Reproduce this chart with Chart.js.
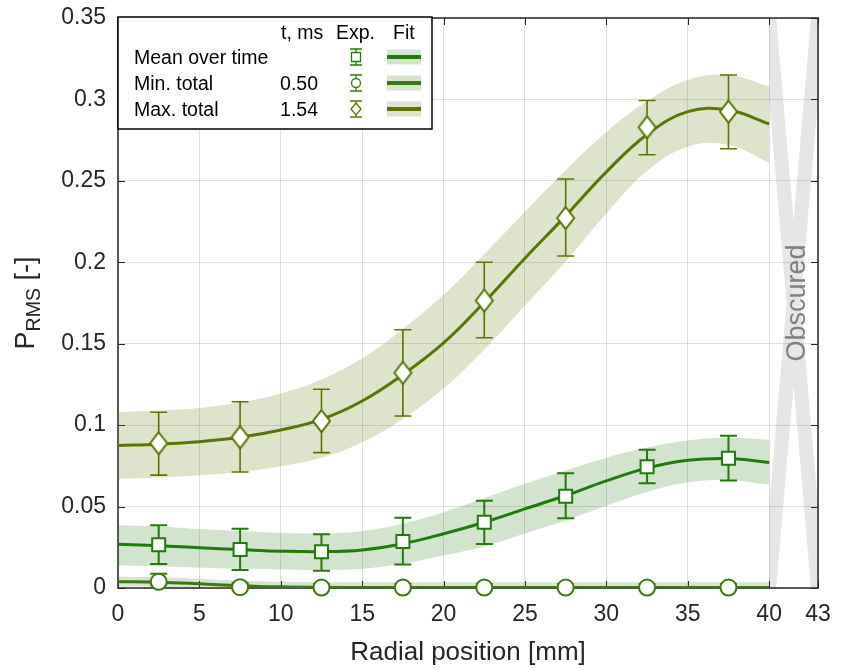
<!DOCTYPE html>
<html>
<head>
<meta charset="utf-8">
<script src="https://cdn.jsdelivr.net/npm/chart.js@4.4.1/dist/chart.umd.min.js"></script>
<style>
  html, body { margin: 0; padding: 0; background: #fff; }
  #wrap { width: 844px; height: 670px; position: relative; }
</style>
</head>
<body>
<div id="wrap"><canvas id="chart"></canvas></div>
<script>
// ── Measured points (radial position in mm, P_RMS)
const xExp = [2.5, 7.5, 12.5, 17.5, 22.5, 27.5, 32.5, 37.5];

const meanExp   = [0.0266, 0.0236, 0.0223, 0.0286, 0.0404, 0.0564, 0.0744, 0.0797];
const meanErrLo = [0.0148, 0.0111, 0.0106, 0.0145, 0.0270, 0.0428, 0.0643, 0.0660];
const meanErrHi = [0.0385, 0.0364, 0.0330, 0.0432, 0.0536, 0.0704, 0.0849, 0.0935];

const minExp   = [0.0038, 0.0005, 0.0003, 0.0003, 0.0003, 0.0003, 0.0003, 0.0003];
const minErrLo = [0.0020, 0.0000, 0.0000, 0.0000, 0.0000, 0.0000, 0.0000, 0.0000];
const minErrHi = [0.0088, 0.0030, 0.0025, 0.0025, 0.0025, 0.0025, 0.0025, 0.0025];

const maxExp   = [0.0889, 0.0926, 0.1025, 0.1322, 0.1765, 0.2272, 0.2829, 0.2925];
const maxErrLo = [0.0693, 0.0712, 0.0831, 0.1056, 0.1537, 0.2039, 0.2660, 0.2697];
const maxErrHi = [0.1079, 0.1144, 0.1220, 0.1586, 0.2000, 0.2511, 0.2993, 0.3150];

// ── Fits with their confidence bands
const xFit = [0, 2.5, 5, 7.5, 10, 12.5, 15, 17.5, 20, 22.5, 25, 27.5, 30, 32.5, 35, 37.5, 40];

const meanFit = [0.0268, 0.0260, 0.0247, 0.0236, 0.0226, 0.0223, 0.0234, 0.0272, 0.0333, 0.0404, 0.0486, 0.0568, 0.0658, 0.0736, 0.0784, 0.0795, 0.0771];
const meanUp  = [0.0386, 0.0378, 0.0362, 0.0350, 0.0338, 0.0335, 0.0350, 0.0395, 0.0465, 0.0552, 0.0640, 0.0722, 0.0800, 0.0862, 0.0905, 0.0922, 0.0910];
const meanLo  = [0.0138, 0.0132, 0.0125, 0.0118, 0.0114, 0.0111, 0.0118, 0.0150, 0.0200, 0.0255, 0.0335, 0.0415, 0.0505, 0.0590, 0.0648, 0.0662, 0.0636];

const minFit = [0.0039, 0.0036, 0.0026, 0.0014, 0.0007, 0.0004, 0.0003, 0.0003, 0.0003, 0.0003, 0.0003, 0.0003, 0.0003, 0.0003, 0.0003, 0.0003, 0.0003];
const minUp  = [0.0069, 0.0066, 0.0057, 0.0045, 0.0038, 0.0036, 0.0035, 0.0035, 0.0035, 0.0035, 0.0035, 0.0035, 0.0035, 0.0035, 0.0035, 0.0035, 0.0035];
const minLo  = [0.0009, 0.0006, 0.0000, 0.0000, 0.0000, 0.0000, 0.0000, 0.0000, 0.0000, 0.0000, 0.0000, 0.0000, 0.0000, 0.0000, 0.0000, 0.0000, 0.0000];

const maxFit = [0.0875, 0.0883, 0.0898, 0.0925, 0.0970, 0.1035, 0.1148, 0.1310, 0.1505, 0.1755, 0.2025, 0.2285, 0.2555, 0.2785, 0.2925, 0.2935, 0.2850];
const maxUp  = [0.1080, 0.1090, 0.1105, 0.1140, 0.1195, 0.1280, 0.1410, 0.1590, 0.1800, 0.2050, 0.2310, 0.2565, 0.2800, 0.2990, 0.3120, 0.3150, 0.3080];
const maxLo  = [0.0670, 0.0678, 0.0692, 0.0712, 0.0748, 0.0800, 0.0895, 0.1040, 0.1225, 0.1465, 0.1735, 0.2005, 0.2300, 0.2560, 0.2710, 0.2720, 0.2610];

// ── Axes
const xTicks = [0, 5, 10, 15, 20, 25, 30, 35, 40, 43];
const yTicks = [0, 0.05, 0.1, 0.15, 0.2, 0.25, 0.3, 0.35];
const yTickLabels = ['0', '0.05', '0.1', '0.15', '0.2', '0.25', '0.3', '0.35'];
const obscuredFrom = 40, obscuredTo = 43;

// ── Legend table
const legendNames = ['Mean over time', 'Min. total', 'Max. total'];
const legendTimes = ['', '0.50', '1.54'];

const FONT = '"Liberation Sans", Arial, Helvetica, sans-serif';
const INK = '#262626';
const C_MEAN = '#217a0b', C_MIN = '#3b7a10', C_MAX = '#5b7500';
const B_MEAN = 'rgba(33,122,11,0.2)', B_MIN = 'rgba(59,122,16,0.2)', B_MAX = 'rgba(91,117,0,0.2)';

const pts = (xs, ys) => xs.map((x, i) => ({ x, y: ys[i] }));

// MATLAB-like diamond, a bit taller than wide
function diamond(color, hw, hh, lw) {
  const c = document.createElement('canvas');
  c.width = Math.ceil(2 * hw + 2 * lw + 2);
  c.height = Math.ceil(2 * hh + 2 * lw + 2);
  const g = c.getContext('2d');
  const cx = c.width / 2, cy = c.height / 2;
  g.beginPath();
  g.moveTo(cx, cy - hh); g.lineTo(cx + hw, cy); g.lineTo(cx, cy + hh); g.lineTo(cx - hw, cy);
  g.closePath();
  g.fillStyle = '#fff'; g.fill();
  g.lineWidth = lw; g.strokeStyle = color; g.stroke();
  return c;
}

function expSet(label, data, lo, hi, color, style, radius, errWidth) {
  return {
    label, data, errLo: lo, errHi: hi, errWidth,
    showLine: false, clip: false,
    borderColor: color, backgroundColor: '#fff',
    pointStyle: style, pointRadius: radius, pointBorderWidth: 2,
    pointBackgroundColor: '#fff', pointBorderColor: color,
  };
}
function fitSet(data, color) {
  return { data, borderColor: color, borderWidth: 3, pointRadius: 0, fill: false, tension: 0.4 };
}
function bandSet(data, fill, color) {
  return { data, borderWidth: 0, borderColor: 'transparent', backgroundColor: color, pointRadius: 0, fill, tension: 0.4 };
}

// ── Error bars, drawn right before each experimental set so the markers sit on top
const errorBars = {
  id: 'errorBars',
  beforeDatasetDraw(chart, args) {
    const ds = chart.data.datasets[args.index];
    if (!ds.errLo) return;
    const { ctx, scales: { x, y } } = chart;
    const cap = 8.5;
    ctx.save();
    ctx.strokeStyle = ds.borderColor;
    ctx.lineWidth = ds.errWidth;
    ds.data.forEach((p, i) => {
      const px = x.getPixelForValue(p.x);
      const y1 = y.getPixelForValue(ds.errLo[i]);
      const y2 = y.getPixelForValue(ds.errHi[i]);
      ctx.beginPath();
      ctx.moveTo(px, y1); ctx.lineTo(px, y2);
      ctx.moveTo(px - cap, y1); ctx.lineTo(px + cap, y1);
      ctx.moveTo(px - cap, y2); ctx.lineTo(px + cap, y2);
      ctx.stroke();
    });
    ctx.restore();
  }
};

// ── Obscured zone, box with inward ticks, titles and the legend table
const decor = {
  id: 'decor',
  beforeDraw(chart) {
    const { ctx, chartArea: a, scales: { x } } = chart;
    const x0 = x.getPixelForValue(obscuredFrom), x1 = x.getPixelForValue(obscuredTo);
    ctx.save();
    ctx.beginPath(); ctx.rect(x0, a.top, x1 - x0, a.bottom - a.top); ctx.clip();
    ctx.strokeStyle = '#e6e6e6'; ctx.lineWidth = 14;
    const dx = (x1 - x0) * 0.1, dy = (a.bottom - a.top) * 0.1;
    ctx.beginPath();
    ctx.moveTo(x0 - dx, a.top - dy); ctx.lineTo(x1 + dx, a.bottom + dy);
    ctx.moveTo(x1 + dx, a.top - dy); ctx.lineTo(x0 - dx, a.bottom + dy);
    ctx.stroke();
    ctx.restore();
  },
  beforeDatasetsDraw(chart) {
    const { ctx, chartArea: a, scales: { x, y } } = chart;
    const x0 = x.getPixelForValue(obscuredFrom), x1 = x.getPixelForValue(obscuredTo);
    ctx.save();
    ctx.translate((x0 + x1) / 2 + 11, (a.top + a.bottom) / 2);
    ctx.rotate(-Math.PI / 2);
    ctx.font = `27px ${FONT}`;
    ctx.fillStyle = '#808080';
    ctx.textAlign = 'center';
    ctx.textBaseline = 'alphabetic';
    ctx.fillText('Obscured', 0, 0);
    ctx.restore();

    ctx.save();
    ctx.strokeStyle = INK;
    ctx.lineWidth = 1;
    const tl = 7;
    ctx.beginPath();
    xTicks.forEach(v => {
      const px = Math.round(x.getPixelForValue(v)) + 0.5;
      ctx.moveTo(px, a.bottom); ctx.lineTo(px, a.bottom - tl);
      ctx.moveTo(px, a.top); ctx.lineTo(px, a.top + tl);
    });
    yTicks.forEach(v => {
      const py = Math.round(y.getPixelForValue(v)) + 0.5;
      ctx.moveTo(a.left, py); ctx.lineTo(a.left + tl, py);
      ctx.moveTo(a.right, py); ctx.lineTo(a.right - tl, py);
    });
    ctx.stroke();
    ctx.lineWidth = 1.5;
    ctx.strokeRect(a.left, a.top, a.right - a.left, a.bottom - a.top);
    ctx.restore();
  },
  afterDraw(chart) {
    const { ctx, chartArea: a } = chart;
    ctx.save();
    ctx.fillStyle = INK;

    // x title
    ctx.font = `26px ${FONT}`;
    ctx.textAlign = 'center';
    ctx.textBaseline = 'alphabetic';
    ctx.fillText('Radial position [mm]', (a.left + a.right) / 2, 660);

    // y title with subscript
    ctx.save();
    ctx.translate(34, (a.top + a.bottom) / 2);
    ctx.rotate(-Math.PI / 2);
    ctx.textAlign = 'left';
    ctx.font = `27px ${FONT}`;
    const wP = ctx.measureText('P').width, wT = ctx.measureText(' [-]').width;
    ctx.font = `19.5px ${FONT}`;
    const wS = ctx.measureText('RMS').width;
    let s = -(wP + wS + wT) / 2;
    ctx.font = `27px ${FONT}`;
    ctx.fillText('P', s, 0);
    ctx.font = `19.5px ${FONT}`;
    ctx.fillText('RMS', s + wP, 6);
    ctx.font = `27px ${FONT}`;
    ctx.fillText(' [-]', s + wP + wS, 0);
    ctx.restore();

    // legend table
    const L = 118, T = 17, W = 314, H = 112;
    ctx.fillStyle = '#fff';
    ctx.fillRect(L, T, W, H);
    ctx.strokeStyle = '#000';
    ctx.lineWidth = 1.5;
    ctx.strokeRect(L, T, W, H);

    ctx.fillStyle = '#000';
    ctx.font = `19.5px ${FONT}`;
    ctx.textBaseline = 'middle';
    ctx.textAlign = 'left';
    ctx.fillText('t, ms', 281, 34);
    ctx.fillText('Exp.', 336, 34);
    ctx.fillText('Fit', 393, 34);

    const rowY = [57, 83, 109];
    const colors = [C_MEAN, C_MIN, C_MAX];
    const bands = [B_MEAN, B_MIN, B_MAX];
    const shapes = ['square', 'circle', 'diamond'];
    rowY.forEach((ry, i) => {
      ctx.fillStyle = '#000';
      ctx.textAlign = 'left';
      ctx.fillText(legendNames[i], 134, ry + 2);
      ctx.textAlign = 'right';
      ctx.fillText(legendTimes[i], 318, ry + 2);

      // mini error bar marker
      const mx = 356;
      ctx.strokeStyle = colors[i];
      ctx.lineWidth = 1.3;
      ctx.beginPath();
      ctx.moveTo(mx, ry - 8); ctx.lineTo(mx, ry + 8);
      ctx.moveTo(mx - 6, ry - 8); ctx.lineTo(mx + 6, ry - 8);
      ctx.moveTo(mx - 6, ry + 8); ctx.lineTo(mx + 6, ry + 8);
      ctx.stroke();
      ctx.beginPath();
      if (shapes[i] === 'square') ctx.rect(mx - 4.5, ry - 4.5, 9, 9);
      else if (shapes[i] === 'circle') ctx.arc(mx, ry, 4.5, 0, Math.PI * 2);
      else { ctx.moveTo(mx, ry - 6); ctx.lineTo(mx + 5, ry); ctx.lineTo(mx, ry + 6); ctx.lineTo(mx - 5, ry); ctx.closePath(); }
      ctx.fillStyle = '#fff';
      ctx.fill();
      ctx.stroke();

      // fit sample: band + line
      ctx.fillStyle = bands[i];
      ctx.fillRect(387, ry - 7.5, 34, 15);
      ctx.strokeStyle = colors[i];
      ctx.lineWidth = 4;
      ctx.beginPath();
      ctx.moveTo(387, ry); ctx.lineTo(421, ry);
      ctx.stroke();
    });
    ctx.restore();
  }
};

new Chart(document.getElementById('chart'), {
  type: 'line',
  data: {
    datasets: [
      expSet('Max. total', pts(xExp, maxExp), maxErrLo, maxErrHi, C_MAX, diamond(C_MAX, 8.5, 11, 2), 10, 1.6),
      expSet('Mean over time', pts(xExp, meanExp), meanErrLo, meanErrHi, C_MEAN, 'rect', 9.2, 2),
      expSet('Min. total', pts(xExp, minExp), minErrLo, minErrHi, C_MIN, 'circle', 8, 2),
      fitSet(pts(xFit, maxFit), C_MAX),
      fitSet(pts(xFit, meanFit), C_MEAN),
      fitSet(pts(xFit, minFit), C_MIN),
      bandSet(pts(xFit, maxUp), '+1', B_MAX),
      bandSet(pts(xFit, maxLo), false, B_MAX),
      bandSet(pts(xFit, meanUp), '+1', B_MEAN),
      bandSet(pts(xFit, meanLo), false, B_MEAN),
      bandSet(pts(xFit, minUp), '+1', B_MIN),
      bandSet(pts(xFit, minLo), false, B_MIN),
    ]
  },
  options: {
    responsive: true,
    maintainAspectRatio: false,
    animation: false,
    events: [],
    layout: { padding: { top: 18, right: 26, left: 0, bottom: 0 } },
    plugins: { legend: { display: false }, tooltip: { enabled: false } },
    scales: {
      x: {
        type: 'linear', min: 0, max: 43,
        afterBuildTicks: s => { s.ticks = xTicks.map(v => ({ value: v })); },
        afterFit: s => { s.height = 82; s.paddingLeft = 0; s.paddingRight = 0; },
        ticks: { autoSkip: false, maxRotation: 0, padding: 13, color: INK, font: { size: 23, family: FONT }, callback: v => String(v) },
        grid: { color: 'rgba(38,38,38,0.15)', drawTicks: false },
        border: { display: false },
      },
      y: {
        type: 'linear', min: 0, max: 0.35,
        afterBuildTicks: s => { s.ticks = yTicks.map(v => ({ value: v })); },
        afterFit: s => { s.width = 118; s.paddingTop = 0; s.paddingBottom = 0; },
        ticks: { padding: 12, color: INK, font: { size: 23, family: FONT }, callback: v => yTickLabels[yTicks.indexOf(v)] },
        grid: { color: 'rgba(38,38,38,0.15)', drawTicks: false },
        border: { display: false },
      }
    }
  },
  plugins: [errorBars, decor]
});
</script>
</body>
</html>
